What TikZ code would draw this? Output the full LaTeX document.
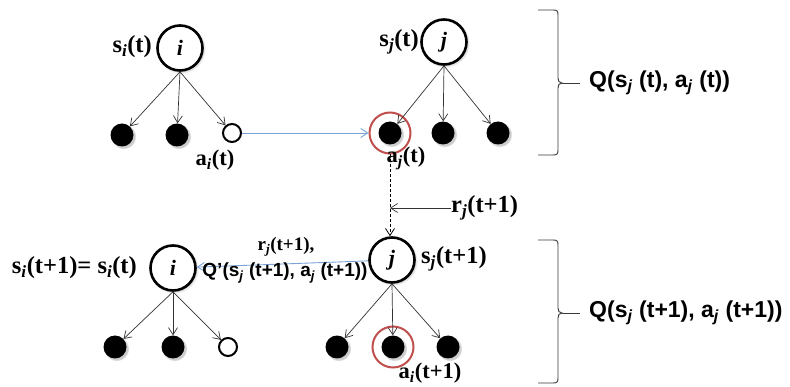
\documentclass[tikz,border=0pt]{standalone}
\usepackage{fontspec}
\setmainfont{Liberation Serif}
\newfontfamily\arialf{Liberation Sans}
\usetikzlibrary{arrows.meta,shadows}
\newcommand\Sb[1]{\textsubscript{\textit{#1}}}
\definecolor{bluel}{HTML}{7BA3D6}
\definecolor{redc}{HTML}{C0504D}
\definecolor{brc}{HTML}{3A3A3A}
\tikzset{
  big/.style={circle,draw,line width=2.6pt,minimum size=45pt,inner sep=0pt,fill=white,
    circular drop shadow={shadow xshift=1pt,shadow yshift=-1pt,opacity=0.35},
    font=\bfseries\itshape\fontsize{22}{22}\selectfont},
  dot/.style={circle,fill=black,minimum size=23pt,inner sep=0pt,
    circular drop shadow={shadow xshift=1.5pt,shadow yshift=-1.5pt,opacity=0.4}},
  odot/.style={circle,draw,line width=2pt,minimum size=18pt,inner sep=0pt,fill=white},
  ring/.style={circle,draw=redc,line width=2pt,minimum size=41pt,inner sep=0pt},
  edge/.style={draw=black!80,line width=0.7pt,-{Straight Barb[length=7pt,width=9pt]}},
  bluearr/.style={draw=bluel,line width=0.9pt,-{Straight Barb[length=7pt,width=9pt]}},
  dasharr/.style={draw=black,line width=0.8pt,dash pattern=on 3pt off 2pt,-{Straight Barb[length=7pt,width=9pt]}},
  brace/.style={draw=brc,line width=0.9pt},
  lblL/.style={font=\bfseries\fontsize{24.5}{24.5}\selectfont,inner sep=0pt},
  lblM/.style={font=\bfseries\fontsize{22.5}{22.5}\selectfont,inner sep=0pt},
  lblS/.style={font=\bfseries\fontsize{19}{19}\selectfont,inner sep=0pt},
  qlbl/.style={font=\arialf\bfseries\fontsize{23}{23}\selectfont,inner sep=0pt},
  qlblS/.style={font=\arialf\bfseries\fontsize{19}{19}\selectfont,inner sep=0pt},
}
\begin{document}
\begin{tikzpicture}[x=1pt,y=-1pt]
\useasboundingbox[fill=white] (0,0) rectangle (790,387);

% top i
\node[big] (i1) at (180,48) {i};
\node[dot] (c11) at (122,135) {};
\node[dot] (c12) at (177,135) {};
\node[odot] (c13) at (232,133) {};
\draw[edge] (i1.south) -- (c11);
\draw[edge] (i1.south) -- (c12);
\draw[edge] (i1.south) -- (c13);
\node[lblL,anchor=east] (si1) at (152,47) {s\Sb{i}(t)};
\node[lblM] (ai1) at (215,160) {a\Sb{i}(t)};

% top j
\node[big] (j1) at (444,42) {j};
\node[dot] (d11) at (390,133) {};
\node[dot] (d12) at (443,133) {};
\node[dot] (d13) at (498,133) {};
\node[ring] (r1) at (390,133) {};
\draw[edge] (j1.south) -- (d11);
\draw[edge] (j1.south) -- (d12);
\draw[edge] (j1.south) -- (d13);
\node[lblL,anchor=east] (sj1) at (419,42) {s\Sb{j}(t)};
\node[lblM] (aj1) at (406,158) {a\Sb{j}(t)};

\draw[bluearr] (c13) -- (r1);

% bottom j
\node[big] (j2) at (392,260) {j};
\draw[dasharr] (r1.south) -- (r1.south |- j2.north);
\node[lblL,anchor=west] (rlab) at (451,208) {r\Sb{j}(t+1)};
\draw[edge] (rlab.west) -- (rlab.west -| r1);
\node[lblL,anchor=west] (sj2) at (421,259) {s\Sb{j}(t+1)};
\node[dot] (d21) at (337,347) {};
\node[dot] (d22) at (393,347) {};
\node[dot] (d23) at (448,347) {};
\node[ring] (r2) at (393,347) {};
\draw[edge] (j2.south) -- (d21);
\draw[edge] (j2.south) -- (d22);
\draw[edge] (j2.south) -- (d23);
\node[lblM] (ai2) at (430,373) {a\Sb{i}(t+1)};

% bottom i
\node[big] (i2) at (173,268) {i};
\node[dot] (c21) at (115,347) {};
\node[dot] (c22) at (173,347) {};
\node[odot] (c23) at (228,347) {};
\draw[edge] (i2.south) -- (c21);
\draw[edge] (i2.south) -- (c22);
\draw[edge] (i2.south) -- (c23);
\node[lblL,anchor=east] (si2) at (137,268) {s\Sb{i}(t+1)= s\Sb{i}(t)};

\draw[bluearr] (j2) -- (i2);
\node[lblS] (bl1) at (286,247) {r\Sb{j}(t+1),};
\node[qlblS] (bl2) at (285,273) {Q’(s\Sb{j} (t+1), a\Sb{j} (t+1))};

% braces
\draw[brace] (538,10) -- (553,10) .. controls (557,10) and (558,11) .. (558,15) -- (558,78)
  .. controls (558,81) and (559,83) .. (562,83) .. controls (559,83) and (558,85) .. (558,88)
  -- (558,150) .. controls (558,154) and (557,155) .. (553,155) -- (538,155);
\draw[brace] (562,83) -- (580,83);
\node[qlbl,anchor=west] (q1) at (589,83) {Q(s\Sb{j} (t), a\Sb{j} (t))};

\draw[brace] (538,240) -- (553,240) .. controls (557,240) and (558,241) .. (558,245) -- (558,308)
  .. controls (558,311) and (559,313) .. (562,313) .. controls (559,313) and (558,315) .. (558,318)
  -- (558,378) .. controls (558,382) and (557,383) .. (553,383) -- (538,383);
\draw[brace] (562,313) -- (580,313);
\node[qlbl,anchor=west] (q2) at (589,313) {Q(s\Sb{j} (t+1), a\Sb{j} (t+1))};
\end{tikzpicture}
\end{document}
